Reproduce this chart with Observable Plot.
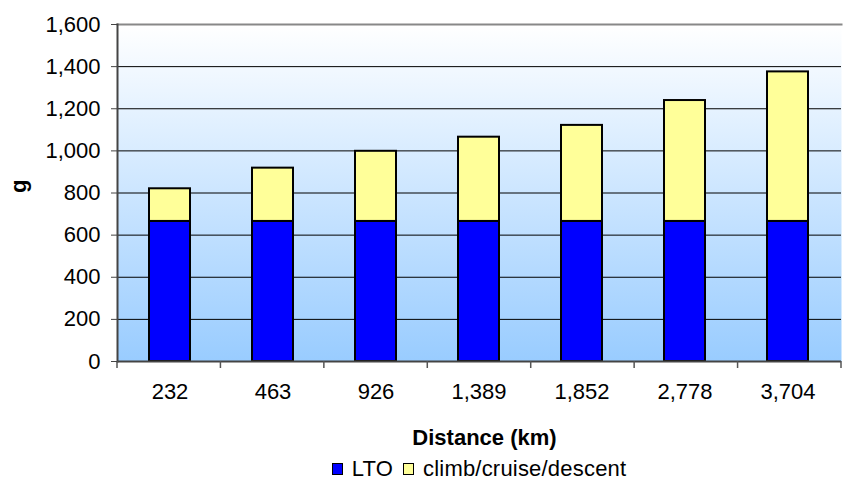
<!DOCTYPE html>
<html>
<head>
<meta charset="utf-8">
<script src="https://cdn.jsdelivr.net/npm/d3@7"></script>
<script src="https://cdn.jsdelivr.net/npm/@observablehq/plot@0.6"></script>
<style>
  html, body { margin: 0; padding: 0; background: #fff; }
  #chart svg { display: block; }
  .legend { width: 843px; height: 30px; box-sizing: border-box; padding-left: 117px; padding-right: 2px; padding-top: 3px;
    display: flex; justify-content: center; align-items: center;
    font-family: "Liberation Sans", Arial, sans-serif; font-size: 22px; color: #000; letter-spacing: 0.2px; }
  .legend .sw { width: 9px; height: 10px; border: 1px solid #000; margin-right: 9px; }
  .legend .item { display: flex; align-items: center; margin: 0 5px; }
</style>
</head>
<body>
<div id="chart"></div>
<script>
const categories = ["232", "463", "926", "1,389", "1,852", "2,778", "3,704"];
const series = ["LTO", "climb/cruise/descent"];
const lto = [665, 665, 665, 665, 665, 665, 665];
const climbCruiseDescent = [155, 253, 333, 400, 456, 574, 710];
const yTicks = [0, 200, 400, 600, 800, 1000, 1200, 1400, 1600];
const colors = ["#0000FF", "#FFFF99"];

const data = [
  ...categories.map((c, i) => ({cat: c, series: series[0], value: lto[i]})),
  ...categories.map((c, i) => ({cat: c, series: series[1], value: climbCruiseDescent[i]}))
];

const W = 843, H = 452;

const bgDefs = () => {
  const g = d3.create("svg:g");
  const lg = g.append("defs").append("linearGradient")
    .attr("id", "bgGrad").attr("x1", 0).attr("y1", 0).attr("x2", 0).attr("y2", 1);
  lg.append("stop").attr("offset", "0%").attr("stop-color", "#FFFFFF");
  lg.append("stop").attr("offset", "100%").attr("stop-color", "#99CCFF");
  return g.node();
};

const xBoundaryTicks = (index, scales, values, dims) => {
  const g = d3.create("svg:g");
  const left = dims.marginLeft, right = dims.width - dims.marginRight;
  const step = (right - left) / categories.length;
  const y0 = scales.y(0);
  for (let k = 0; k <= categories.length; k++) {
    const x = left + k * step;
    g.append("line").attr("x1", x).attr("x2", x).attr("y1", y0).attr("y2", y0 + 7)
      .attr("stroke", "#555").attr("stroke-width", 1.5);
  }
  return g.node();
};

const chart = Plot.plot({
  width: W,
  height: H,
  marginLeft: 117,
  marginRight: 2,
  marginTop: 24,
  marginBottom: 91,
  style: {fontFamily: "'Liberation Sans', Arial, sans-serif", fontSize: "22px", background: "white", color: "#000"},
  x: {domain: categories, paddingInner: 0.6, paddingOuter: 0.3, label: null},
  y: {domain: [0, 1600], label: null},
  color: {domain: series, range: colors},
  marks: [
    bgDefs,
    Plot.frame({fill: "url(#bgGrad)", stroke: "none"}),
    Plot.gridY(yTicks, {stroke: "#000", strokeOpacity: 1, strokeWidth: 1}),
    Plot.frame({anchor: "top", stroke: "#888", strokeWidth: 2}),
    Plot.barY(data, {x: "cat", y: "value", fill: "series", stroke: "#000", strokeWidth: 2, order: null}),
    Plot.ruleY([0], {stroke: "#444", strokeWidth: 2}),
    Plot.frame({anchor: "left", stroke: "#444", strokeWidth: 2}),
    xBoundaryTicks,
    Plot.axisY(yTicks, {tickFormat: d3.format(","), tickSize: 6, tickPadding: 11, fontSize: 22, stroke: "#444", label: null}),
    Plot.axisX({tickSize: 0, tickPadding: 22, fontSize: 22, label: null}),
    Plot.text(["Distance (km)"], {frameAnchor: "bottom", dy: 76, dx: 5, fontWeight: "bold", fontSize: 22, lineAnchor: "middle", style: "letter-spacing:1.3px"}),
    Plot.text(["g"], {frameAnchor: "left", dx: -99, rotate: -90, fontWeight: "bold", fontSize: 22, lineAnchor: "middle"})
  ]
});

const container = document.getElementById("chart");
container.appendChild(chart);

const legend = document.createElement("div");
legend.className = "legend";
series.forEach((s, i) => {
  const item = document.createElement("span");
  item.className = "item";
  const sw = document.createElement("span");
  sw.className = "sw";
  sw.style.background = colors[i];
  const t = document.createElement("span");
  t.textContent = s;
  item.appendChild(sw);
  item.appendChild(t);
  legend.appendChild(item);
});
container.appendChild(legend);
</script>
</body>
</html>
